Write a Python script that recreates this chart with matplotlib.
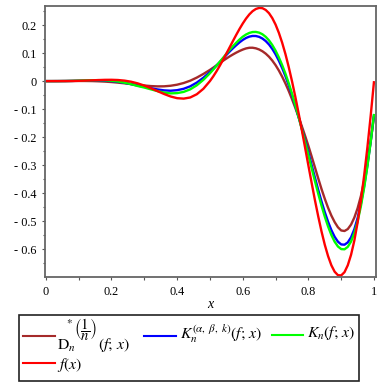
import matplotlib
matplotlib.use("Agg")
import matplotlib.pyplot as plt
from matplotlib.lines import Line2D
from matplotlib.patches import Rectangle
from matplotlib.ticker import FixedLocator, FixedFormatter

plt.rcParams["font.family"] = ["Liberation Serif", "DejaVu Serif"]
plt.rcParams["mathtext.fontset"] = "stix"

# ---------------- data ----------------
x = [0.00, 0.02, 0.04, 0.06, 0.08, 0.10, 0.12, 0.14, 0.16, 0.18,
     0.20, 0.22, 0.24, 0.26, 0.28, 0.30, 0.32, 0.34, 0.36, 0.38,
     0.40, 0.42, 0.44, 0.46, 0.48, 0.50,
     0.51, 0.52, 0.53, 0.54, 0.55, 0.56, 0.57, 0.58, 0.59, 0.60,
     0.61, 0.62, 0.63, 0.64, 0.65, 0.66, 0.67, 0.68, 0.69, 0.70,
     0.71, 0.72, 0.73, 0.74, 0.75, 0.76, 0.77, 0.78, 0.79, 0.80,
     0.81, 0.82, 0.83, 0.84, 0.85, 0.86, 0.87, 0.88, 0.89, 0.90,
     0.91, 0.92, 0.93, 0.94, 0.95, 0.96, 0.97, 0.98, 0.99, 1.00]

d_star = [0.0000, 0.0000, 0.0001, 0.0003, 0.0004, 0.0005, 0.0004, 0.0001, -0.0007, -0.0018,
          -0.0034, -0.0055, -0.0079, -0.0106, -0.0133, -0.0157, -0.0177, -0.0188, -0.0186, -0.0166,
          -0.0128, -0.0068, 0.0015, 0.0125, 0.0255, 0.0400,
          0.0479, 0.0560, 0.0643, 0.0725, 0.0804, 0.0880, 0.0950, 0.1015, 0.1074, 0.1125,
          0.1166, 0.1190, 0.1191, 0.1170, 0.1128, 0.1065, 0.0980, 0.0870, 0.0733, 0.0570,
          0.0378, 0.0160, -0.0083, -0.0350, -0.0641, -0.0950, -0.1274, -0.1610, -0.1953, -0.2310,
          -0.2691, -0.3080, -0.3471, -0.3850, -0.4201, -0.4520, -0.4798, -0.5030, -0.5215, -0.5330,
          -0.5349, -0.5280, -0.5120, -0.4870, -0.4534, -0.4100, -0.3555, -0.2900, -0.2131, -0.1250]

k_abk = [0.0000, 0.0000, 0.0001, 0.0003, 0.0007, 0.0013, 0.0019, 0.0024, 0.0024, 0.0017,
         0.0001, -0.0025, -0.0062, -0.0109, -0.0160, -0.0204, -0.0252, -0.0297, -0.0330, -0.0343,
         -0.0324, -0.0274, -0.0186, -0.0053, 0.0119, 0.0322,
         0.0435, 0.0553, 0.0677, 0.0803, 0.0931, 0.1055, 0.1171, 0.1279, 0.1381, 0.1469,
         0.1539, 0.1587, 0.1611, 0.1609, 0.1579, 0.1519, 0.1429, 0.1307, 0.1149, 0.0957,
         0.0730, 0.0470, 0.0179, -0.0142, -0.0495, -0.0874, -0.1274, -0.1690, -0.2119, -0.2558,
         -0.3004, -0.3448, -0.3882, -0.4295, -0.4678, -0.5021, -0.5317, -0.5556, -0.5730, -0.5828,
         -0.5838, -0.5756, -0.5574, -0.5286, -0.4886, -0.4372, -0.3737, -0.2991, -0.2143, -0.1190]

k_n = [0.0000, 0.0000, 0.0001, 0.0003, 0.0008, 0.0016, 0.0024, 0.0031, 0.0034, 0.0029,
       0.0013, -0.0015, -0.0056, -0.0110, -0.0175, -0.0229, -0.0293, -0.0356, -0.0408, -0.0438,
       -0.0429, -0.0385, -0.0294, -0.0149, 0.0045, 0.0280,
       0.0412, 0.0550, 0.0689, 0.0829, 0.0973, 0.1113, 0.1244, 0.1367, 0.1483, 0.1584,
       0.1663, 0.1719, 0.1751, 0.1755, 0.1729, 0.1671, 0.1580, 0.1453, 0.1288, 0.1086,
       0.0848, 0.0574, 0.0267, -0.0073, -0.0447, -0.0849, -0.1274, -0.1717, -0.2175, -0.2640,
       -0.3109, -0.3571, -0.4019, -0.4443, -0.4836, -0.5188, -0.5490, -0.5731, -0.5901, -0.5994,
       -0.6002, -0.5915, -0.5725, -0.5425, -0.5004, -0.4463, -0.3798, -0.3021, -0.2147, -0.1170]

f_x = [0.0000, 0.0000, 0.0000, 0.0001, 0.0004, 0.0010, 0.0017, 0.0027, 0.0037, 0.0045,
       0.0047, 0.0039, 0.0017, -0.0022, -0.0081, -0.0159, -0.0253, -0.0356, -0.0458, -0.0548,
       -0.0609, -0.0625, -0.0584, -0.0469, -0.0275, 0.0000,
       0.0166, 0.0350, 0.0548, 0.0759, 0.0978, 0.1203, 0.1427, 0.1647, 0.1858, 0.2054,
       0.2230, 0.2379, 0.2496, 0.2574, 0.2612, 0.2602, 0.2539, 0.2424, 0.2249, 0.2017,
       0.1724, 0.1374, 0.0968, 0.0507, 0.0000, -0.0549, -0.1135, -0.1746, -0.2376, -0.3011,
       -0.3638, -0.4251, -0.4828, -0.5364, -0.5841, -0.6246, -0.6572, -0.6801, -0.6925, -0.6933,
       -0.6818, -0.6572, -0.6198, -0.5690, -0.5040, -0.4264, -0.3360, -0.2344, -0.1216, 0.0000]

xticks = [0, 0.2, 0.4, 0.6, 0.8, 1]
xtick_labels = ["0", "0.2", "0.4", "0.6", "0.8", "1"]
xminor = [0.1, 0.3, 0.5, 0.7, 0.9]
yticks = [0.2, 0.1, 0, -0.1, -0.2, -0.3, -0.4, -0.5, -0.6]
ytick_labels = ["0.2", "0.1", "0", "- 0.1", "- 0.2", "- 0.3", "- 0.4", "- 0.5", "- 0.6"]
yminor = [0.25, 0.15, 0.05, -0.05, -0.15, -0.25, -0.35, -0.45, -0.55, -0.65]

colors = ["#A52A2A", "#0000FF", "#00FF00", "#FF0000"]
# legend label of the first series, split in parts: D_n, *, (1/n), (f; x)
d_label_parts = [r"$\mathrm{D}_n$", r"$*$", r"$\left(\dfrac{1}{n}\right)$", r"$(f;\, x)$"]
other_labels = [r"$K_n^{(\alpha,\ \beta,\ k)}(f;\, x)$", r"$K_n(f;\, x)$", r"$f(x)$"]

# ---------------- figure ----------------
W = H = 382
fig = plt.figure(figsize=(W / 100, H / 100), dpi=100)

def fx(px):
    return px / W

def fy(py):
    return 1 - py / H

ax = fig.add_axes([fx(44.5), fy(277), fx(376) - fx(44.5), (277 - 6) / H])

series = [d_star, k_abk, k_n, f_x]
for s, c in zip(series, colors):
    ax.plot(x, s, color=c, lw=1.7, solid_joinstyle="round", solid_capstyle="butt")

ax.set_xlim(-0.004, 1.006)
ax.set_ylim(-0.699, 0.268)

ax.xaxis.set_major_locator(FixedLocator(xticks))
ax.xaxis.set_major_formatter(FixedFormatter(xtick_labels))
ax.xaxis.set_minor_locator(FixedLocator(xminor))
ax.yaxis.set_major_locator(FixedLocator(yticks))
ax.yaxis.set_major_formatter(FixedFormatter(ytick_labels))
ax.yaxis.set_minor_locator(FixedLocator(yminor))

ax.tick_params(which="major", direction="out", length=2.5, width=0.8,
               color="#555555", labelsize=8.8, pad=3)
ax.tick_params(which="minor", direction="out", length=1.8, width=0.8, color="#555555")
ax.tick_params(axis="x", which="major", pad=4)

for sp in ax.spines.values():
    sp.set_color("#666666")
    sp.set_linewidth(1.3)

ax.set_xlabel("x", fontsize=10, style="italic")
ax.xaxis.set_label_coords(0.5, -0.1)
ax.xaxis.label.set_verticalalignment("center")

# ---------------- legend ----------------
fig.add_artist(Rectangle((fx(19), fy(380.5)), fx(359) - fx(19), (380.5 - 315) / H,
                         transform=fig.transFigure, fill=False, ec="#222222", lw=1.2))

samples = [(23, 55, 335.7), (144, 176, 335.7), (272, 303, 334.5), (23, 55, 363.3)]
for (x0, x1, ly), c in zip(samples, colors):
    fig.add_artist(Line2D([fx(x0), fx(x1)], [fy(ly), fy(ly)], color=c, lw=1.5,
                          transform=fig.transFigure))

LS = 11.3
# first label (built from parts)
fig.text(fx(57), fy(349.5), d_label_parts[0], fontsize=LS, ha="left", va="baseline")
fig.text(fx(66.5), fy(321.5), d_label_parts[1], fontsize=8, ha="left", va="center")
fig.text(fx(73.5), fy(330), d_label_parts[2], fontsize=10.5, ha="left", va="center")
fig.text(fx(97.5), fy(349.5), d_label_parts[3], fontsize=LS, ha="left", va="baseline")
# other labels
fig.text(fx(180), fy(334), other_labels[0], fontsize=LS, ha="left", va="center")
fig.text(fx(307), fy(333), other_labels[1], fontsize=LS, ha="left", va="center")
fig.text(fx(57), fy(364.5), other_labels[2], fontsize=LS, ha="left", va="center")

fig.savefig("out.png", dpi=100)
